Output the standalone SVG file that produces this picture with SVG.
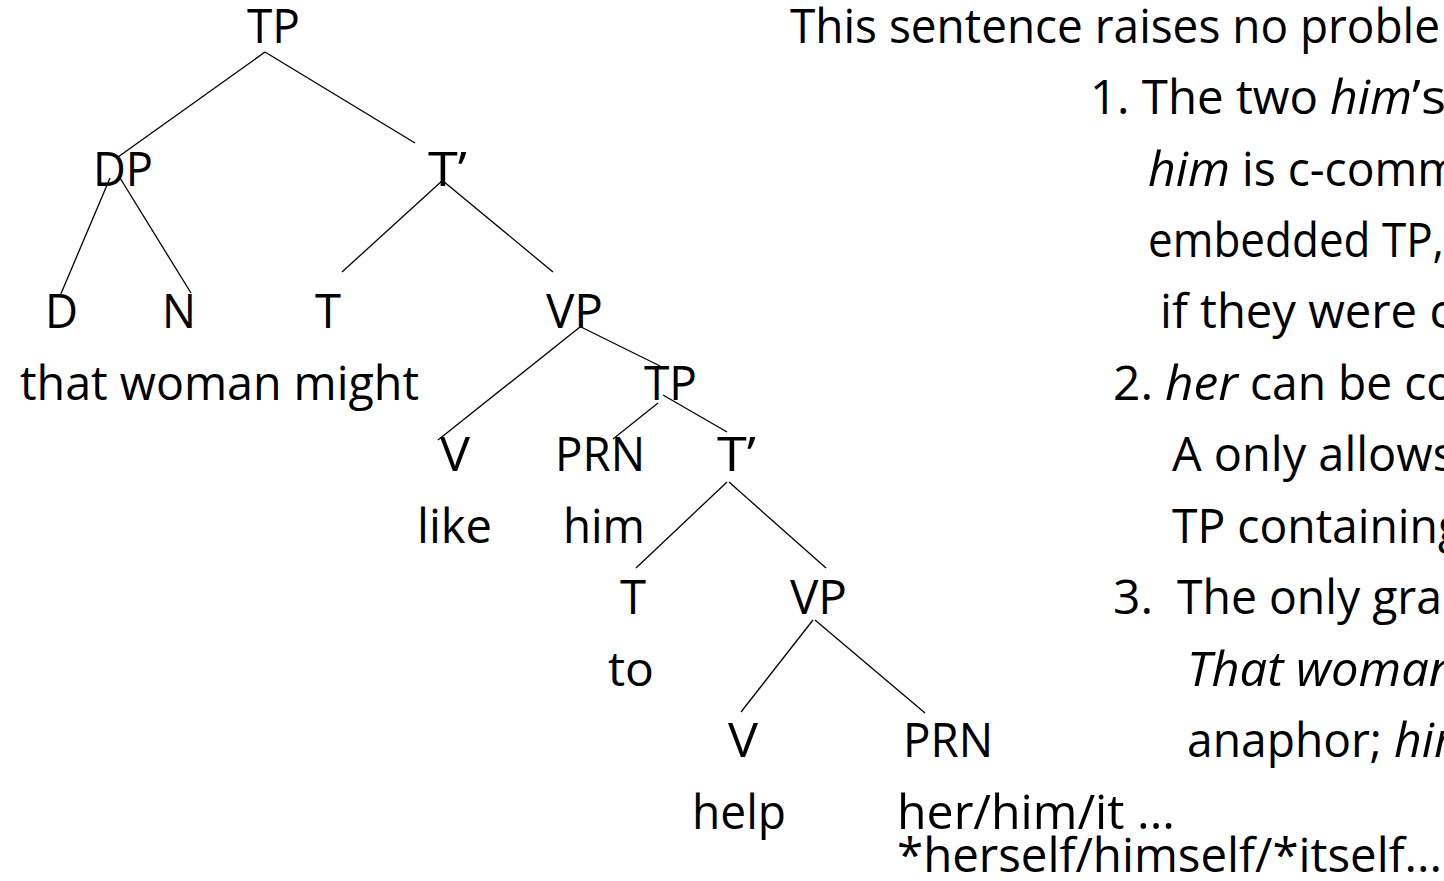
<svg xmlns="http://www.w3.org/2000/svg" width="1444" height="881" viewBox="0 0 1444 881">
  <style>
    text { font-family: "Open Sans", "Noto Sans", "Liberation Sans", sans-serif; font-size: 48px; fill: #000; }
    .it { font-style: italic; }
    .edge { stroke: #000; stroke-width: 1.3; fill: none; }
  </style>
  <rect width="1444" height="881" fill="#fff"/>

  <!-- branches of the tree -->
  <g id="connectors">
    <line class="edge" x1="265" y1="52" x2="118" y2="157"/>
    <line class="edge" x1="265" y1="52" x2="415" y2="143"/>
    <line class="edge" x1="110" y1="178" x2="60" y2="296"/>
    <line class="edge" x1="120" y1="178" x2="191" y2="293"/>
    <line class="edge" x1="443" y1="180" x2="342" y2="272"/>
    <line class="edge" x1="443" y1="181" x2="553" y2="272"/>
    <line class="edge" x1="580" y1="327" x2="438" y2="440"/>
    <line class="edge" x1="581" y1="327" x2="660" y2="366"/>
    <line class="edge" x1="658" y1="403" x2="613" y2="439"/>
    <line class="edge" x1="663" y1="395" x2="727" y2="432"/>
    <line class="edge" x1="727" y1="482" x2="636" y2="568"/>
    <line class="edge" x1="729" y1="482" x2="826" y2="568"/>
    <line class="edge" x1="813" y1="620" x2="741" y2="712"/>
    <line class="edge" x1="815" y1="620" x2="925" y2="713"/>
  </g>

  <!-- tree nodes -->
  <g id="n-tp"><text x="247" y="43" textLength="53" lengthAdjust="spacingAndGlyphs">TP</text></g>
  <g id="n-dp"><text x="93" y="186" textLength="60" lengthAdjust="spacingAndGlyphs">DP</text></g>
  <g id="n-tbar"><text x="428" y="186" textLength="39" lengthAdjust="spacingAndGlyphs">T’</text></g>
  <g id="n-d"><text x="45" y="328" textLength="33" lengthAdjust="spacingAndGlyphs">D</text></g>
  <g id="n-n"><text x="162" y="328" textLength="34" lengthAdjust="spacingAndGlyphs">N</text></g>
  <g id="n-t"><text x="315" y="328" textLength="26" lengthAdjust="spacingAndGlyphs">T</text></g>
  <g id="n-vp"><text x="546" y="328" textLength="57" lengthAdjust="spacingAndGlyphs">VP</text></g>
  <g id="w-subject"><text x="20" y="400" textLength="399" lengthAdjust="spacingAndGlyphs">that woman might</text></g>
  <g id="n-tp2"><text x="644" y="400" textLength="53" lengthAdjust="spacingAndGlyphs">TP</text></g>
  <g id="n-v"><text x="440" y="471" textLength="30" lengthAdjust="spacingAndGlyphs">V</text></g>
  <g id="n-prn"><text x="555" y="471" textLength="90" lengthAdjust="spacingAndGlyphs">PRN</text></g>
  <g id="n-tbar2"><text x="717" y="471" textLength="39" lengthAdjust="spacingAndGlyphs">T’</text></g>
  <g id="w-like"><text x="417" y="543" textLength="75" lengthAdjust="spacingAndGlyphs">like</text></g>
  <g id="w-him"><text x="563" y="543" textLength="82" lengthAdjust="spacingAndGlyphs">him</text></g>
  <g id="n-t2"><text x="620" y="614" textLength="26" lengthAdjust="spacingAndGlyphs">T</text></g>
  <g id="n-vp2"><text x="790" y="614" textLength="57" lengthAdjust="spacingAndGlyphs">VP</text></g>
  <g id="w-to"><text x="608" y="686" textLength="46" lengthAdjust="spacingAndGlyphs">to</text></g>
  <g id="n-v2"><text x="728" y="757" textLength="30" lengthAdjust="spacingAndGlyphs">V</text></g>
  <g id="n-prn2"><text x="903" y="757" textLength="90" lengthAdjust="spacingAndGlyphs">PRN</text></g>
  <g id="w-help"><text x="692" y="829" textLength="94" lengthAdjust="spacingAndGlyphs">help</text></g>
  <g id="w-object">
    <text x="897" y="829" textLength="278" lengthAdjust="spacingAndGlyphs">her/him/it ...</text>
    <text x="897" y="872" textLength="545" lengthAdjust="spacingAndGlyphs">*herself/himself/*itself...</text>
  </g>

  <!-- commentary at right -->
  <g id="notes">
    <text x="790" y="43" textLength="650" lengthAdjust="spacingAndGlyphs">This sentence raises no proble</text>
    <text y="114"><tspan x="1090" textLength="228" lengthAdjust="spacingAndGlyphs">1. The two</tspan><tspan x="1330" class="it" textLength="82" lengthAdjust="spacingAndGlyphs">him</tspan><tspan x="1412" textLength="34" lengthAdjust="spacingAndGlyphs">’s</tspan></text>
    <text y="186"><tspan x="1148" class="it" textLength="82" lengthAdjust="spacingAndGlyphs">him</tspan><tspan x="1242" textLength="218" lengthAdjust="spacingAndGlyphs">is c-comm</tspan></text>
    <text x="1148" y="257" textLength="296" lengthAdjust="spacingAndGlyphs">embedded TP,</text>
    <text x="1160" y="328" textLength="292" lengthAdjust="spacingAndGlyphs">if they were c</text>
    <text y="400"><tspan x="1113" textLength="40" lengthAdjust="spacingAndGlyphs">2.</tspan><tspan x="1165" class="it" textLength="73" lengthAdjust="spacingAndGlyphs">her</tspan><tspan x="1250" textLength="204" lengthAdjust="spacingAndGlyphs">can be co</tspan></text>
    <text x="1172" y="471" textLength="283" lengthAdjust="spacingAndGlyphs">A only allows</text>
    <text x="1172" y="543" textLength="291" lengthAdjust="spacingAndGlyphs">TP containing</text>
    <text y="614"><tspan x="1113" textLength="40" lengthAdjust="spacingAndGlyphs">3.</tspan><tspan x="1177" textLength="265" lengthAdjust="spacingAndGlyphs">The only gra</tspan></text>
    <text x="1187" y="686" class="it" textLength="270" lengthAdjust="spacingAndGlyphs">That woman</text>
    <text y="757"><tspan x="1187" textLength="195" lengthAdjust="spacingAndGlyphs">anaphor;</tspan><tspan x="1394" class="it" textLength="82" lengthAdjust="spacingAndGlyphs">him</tspan></text>
  </g>
</svg>
